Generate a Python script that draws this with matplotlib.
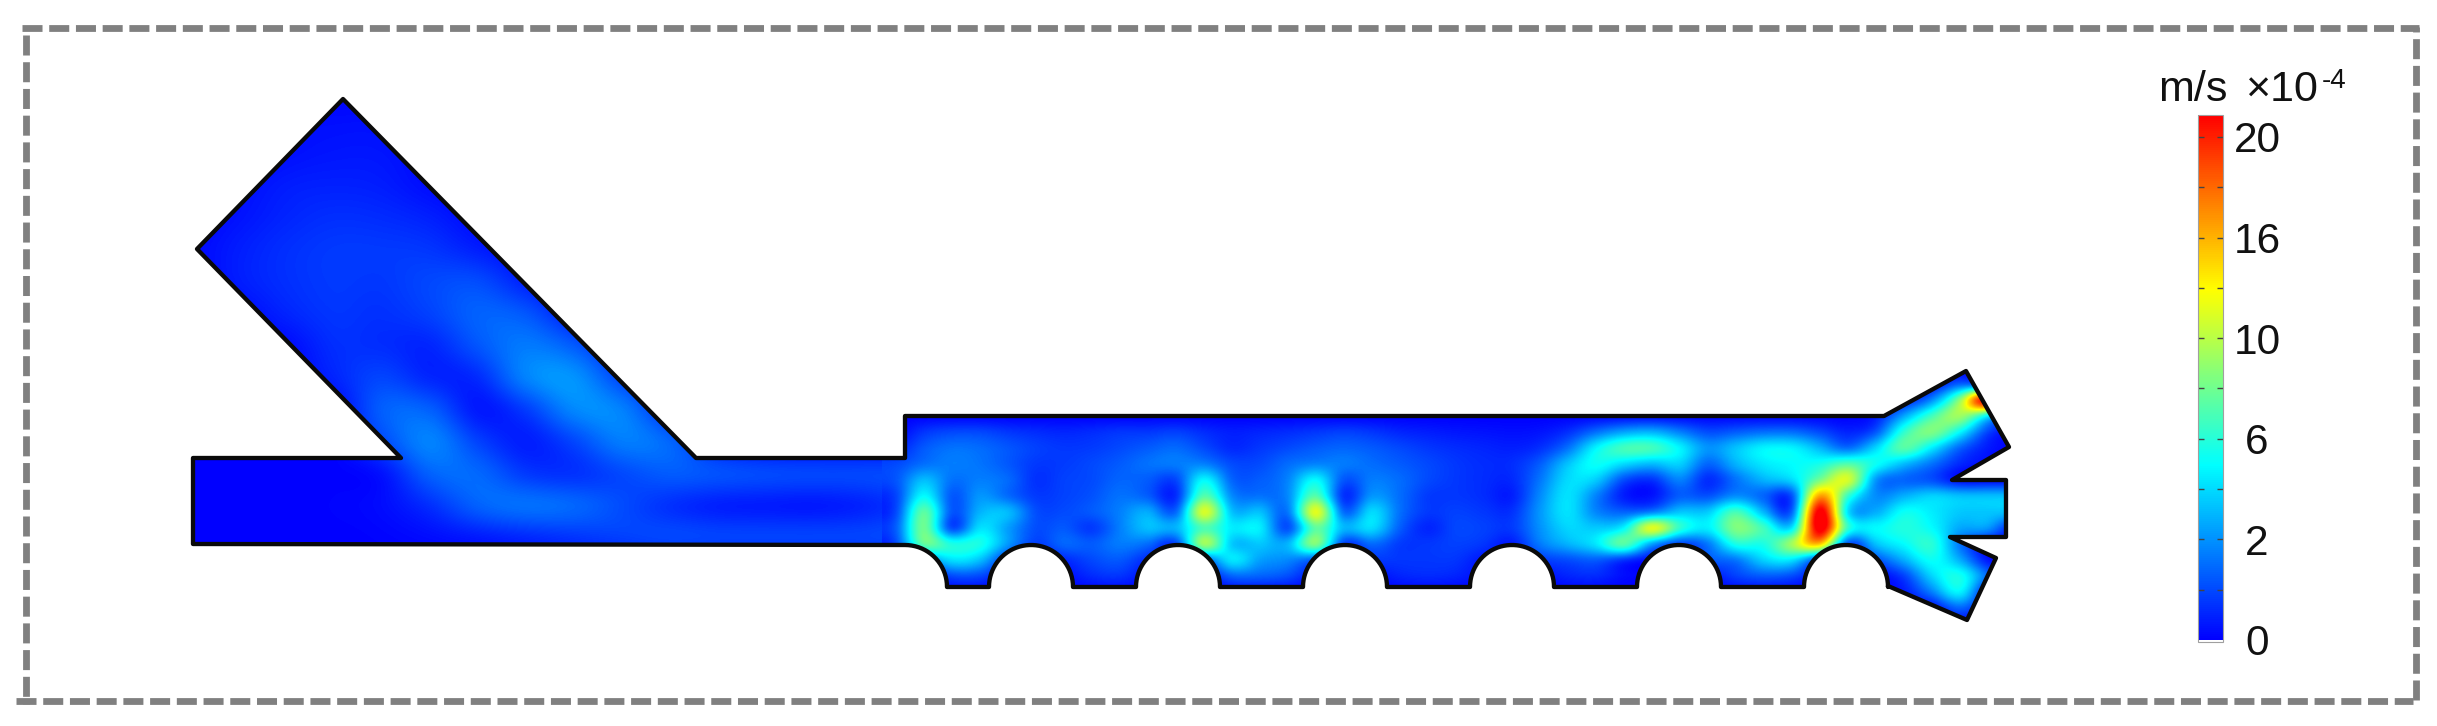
import numpy as np
import matplotlib
matplotlib.use("Agg")
import matplotlib.pyplot as plt
from matplotlib.colors import LinearSegmentedColormap
from matplotlib.patches import Polygon

plt.rcParams['font.family'] = ['Liberation Sans', 'DejaVu Sans']

# speed (colour position on the bar, bar units)
# --- inlet part: columns every 48 px from x=190, rows every 32 px from y=90
left_x = [190,238,286,334,382,430,478,526,574,622,670,718,766,814,862,910]
left_y = [90,122,154,186,218,250,282,314,346,378,410,442,474,506,538,570]
left_speed = [
 [0,0,0,0,0,0,0,0,0,0,0,0,0,0,0,0],
 [0,0,.3,.4,.4,0,0,0,0,0,0,0,0,0,0,0],
 [0,0,.4,.6,.6,.2,0,0,0,0,0,0,0,0,0,0],
 [0,.3,.8,.9,.8,.3,0,0,0,0,0,0,0,0,0,0],
 [0,.5,1,1.3,1.2,.9,.2,0,0,0,0,0,0,0,0,0],
 [.2,.8,1.3,1.6,1.6,1.5,.8,.2,0,0,0,0,0,0,0,0],
 [0,.8,1.3,1.6,1.5,2,2.2,.8,0,0,0,0,0,0,0,0],
 [0,.2,1,1.5,1.3,1.8,2.8,2.5,.6,0,0,0,0,0,0,0],
 [0,0,.2,1.3,1.2,.9,2.4,3.5,2.6,.5,0,0,0,0,0,0],
 [0,0,0,1,2,.9,1,3.8,4.3,1.8,.2,0,0,0,0,0],
 [0,0,0,0,2.8,2.8,.4,1.5,3.9,3.8,1,0,0,0,0,0],
 [0,0,0,0,2,3.9,1.8,.6,1.8,3.6,3,.7,0,0,0,0],
 [0,0,0,0,.3,2.8,3,1.5,1.2,1.9,2.6,2.4,2.2,2.1,2.1,2.2],
 [0,0,0,.1,.3,1.2,2.8,3.3,3,2.1,1.2,.7,.6,.5,.8,1.5],
 [0,0,0,0,.1,.3,.6,1,1.4,1.8,2.1,2,2,2,2,2.2],
 [0,0,0,0,0,0,0,0,0,0,0,0,0,0,0,0],
]

# --- chamber and outlets: columns every 28 px from x=896, rows every 16 px from y=368
chamber_x = [896,924,952,980,1008,1036,1064,1092,1120,1148,1176,1204,1232,1260,1288,1316,1344,1372,1400,1428,
             1456,1484,1512,1540,1568,1596,1624,1652,1680,1708,1736,1764,1792,1820,1848,1876,1904,1932,1960,1988,2016]
chamber_y = [368,384,400,416,432,448,464,480,496,512,528,544,560,576,592,608,624]
chamber_speed = [
 [0,0,0,0,0,0,0,0,0,0, 0,0,0,0,0,0,0,0,0,0, 0,0,0,0,0,0,0,0,0,0, 0,0,0,0,0,0,0,0,0,0,0],
 [0,0,0,0,0,0,0,0,0,0, 0,0,0,0,0,0,0,0,0,0, 0,0,0,0,0,0,0,0,0,0, 0,0,0,0,0,0,0,0,2.5,1,0],
 [0,0,0,0,0,0,0,0,0,0, 0,0,0,0,0,0,0,0,0,0, 0,0,0,0,0,0,0,0,0,0, 0,0,0,0,0,0,.5,3.5,11,24,0],
 [0,0,0,0,0,0,0,0,0,0, 0,0,0,0,0,0,0,0,0,0, 0,0,0,0,0,0,0,0,0,0, 0,0,0,0,0,.5,4.5,9,12,6,0],
 [0,1.5,2,2,1.5,1.2,1,1.2,1.5,1.5, 1.8,1.2,.8,1,1.2,1.5,1.8,1.5,1,.8, .6,.5,.4,.5,1.2,3,4.5,5,3.5,2, 2.5,3,3,2,.8,2,8.5,11,7,1.5,0],
 [.8,2.5,3.2,3,2.4,1.8,1.5,1.6,2,2.5, 3,2,1,1.5,2,2.5,2.8,2.5,2,1.5, 1.2,1,.8,1.2,3,7,9.3,9.3,7,4, 5.5,7,7,5,2.5,6,10,6.5,2.5,.6,0],
 [2,3,3.5,3.2,2.4,1.5,1.6,2,2.5,3.2, 3.5,3.5,2,2,3,3.5,3.5,3,2.5,2, 1.5,1.2,1.2,2.5,5.5,7.5,6,5,6,2.5, 5,6.5,7,7.5,9.5,7.5,5,3,1,.3,0],
 [2.2,5.5,3,3.5,3,1.2,1.8,2,2.8,2.5, 1.5,7.5,2.5,2.5,3.5,7.5,2,3.5,3,2, 1.5,1.2,1,3.2,6.2,5.8,1.8,1,3.8,.8, 3,5,6,10,14,3.5,2.5,2,0,0,0],
 [1.5,7.5,2,4.3,2.8,1.5,1.8,2.2,3.2,2.5, .5,10,3.5,3,3.5,10,.5,4.3,3,1.5, 1.5,1.2,.6,3.8,6.5,3.5,.5,.2,2.5,2, 3.8,2.5,1,18,8,3.5,4.8,6,5.5,5.5,5.5],
 [1.5,10.5,1.8,5,5.5,2,2,2.5,3.5,5, 2,14.5,4.8,5.5,2.5,15,2,6.5,3,1.5, 1.8,1.5,1.2,4.2,6.5,3.5,2.5,3,5.5,5.5, 9.5,4.8,1.2,24,5,4.5,7.5,6.5,5.5,5.5,5.5],
 [2.2,11,.9,6.5,4.3,2,2.5,1.3,3.5,5.5, 5,9,6.5,7,1.2,10,5,6.5,2.5,.8, 2,1.8,1.5,4,6,5.5,6.5,15,8.5,6.5, 11,9,5,24,8,7,8,7,4.5,4.5,0],
 [1.5,10.5,8,8,4.3,1.5,3,2.5,3.5,3, 1,13,5,5.5,4.8,12,1,3,1.5,1.5, 1.8,1.5,.5,3.5,5,6.5,10.5,4,1.3,3, 8,7.5,12,17,1,5.5,7,8.5,3,0,0],
 [0,3,6.5,5.5,1,0,1,2,2.5,1, 0,2,7,4.3,3.8,2,0,1.5,1.5,1.5, 1.5,.5,0,1.5,2,2.5,1,0,.5,2.5, 3,6,6.5,1,0,2,4.8,7.5,4.8,.3,0],
 [0,0,2,2,0,0,.3,1.2,1.5,.3, 0,0,2.8,2.8,2.2,.3,0,.3,1,1.2, 1,.3,0,.3,1,1.2,.3,0,0,.3, 1.8,2.5,2,0,0,0,1.5,6,8,3,0],
 [0,0,0,0,0,0,0,0,0,0, 0,0,0,0,0,0,0,0,0,0, 0,0,0,0,0,0,0,0,0,0, 0,0,0,0,0,0,.5,3.5,7.5,0,0],
 [0,0,0,0,0,0,0,0,0,0, 0,0,0,0,0,0,0,0,0,0, 0,0,0,0,0,0,0,0,0,0, 0,0,0,0,0,0,0,0,3,0,0],
 [0,0,0,0,0,0,0,0,0,0, 0,0,0,0,0,0,0,0,0,0, 0,0,0,0,0,0,0,0,0,0, 0,0,0,0,0,0,0,0,0,0,0],
]

# wall outline (px of the picture)
wall_before = [(193,544),(193,458),(401,458),(197,249),(343,99),(696,458),(905,458),(905,416),
               (1884,416),(1966,371),(2009,447),(1952,480),(2006,480),(2006,537),(1950,537),
               (1996,558),(1967,620),(1888,586)]
groove_centers = [1846,1679,1512,1345,1178,1031]
groove_radius = 42
groove_floor = 587
first_corner = (905,587)

tick_values = [0,4,8,12,16,20]
tick_labels = ['0','2','6','10','16','20']
minor_values = [2,6,10,14,18]

cmap = LinearSegmentedColormap.from_list('rainbow_bar',
    [(0,(0,0,1)),(1/3,(0,1,1)),(.5,(.5,1,.5)),(2/3,(1,1,0)),(1,(1,0,0))])
vmin, vmax = 0, 20.87

W, H = 2437, 726
fig = plt.figure(figsize=(W/100, H/100), dpi=100)
ax = fig.add_axes([0,0,1,1])
ax.axis('off')

# outline with round grooves
pts = list(wall_before)
theta = np.linspace(0, np.pi, 40)
for c in groove_centers:
    pts.append((c+groove_radius, groove_floor))
    for t in theta:
        pts.append((c+groove_radius*np.cos(t), groove_floor-groove_radius*np.sin(t)))
    pts.append((c-groove_radius, groove_floor))
theta = np.linspace(0, np.pi/2, 20)
for t in theta:
    pts.append((first_corner[0]+groove_radius*np.cos(t), first_corner[1]-groove_radius*np.sin(t)))
poly_xy = np.array(pts)

def field(xs, ys, vals):
    dx = xs[1]-xs[0]; dy = ys[1]-ys[0]
    im = ax.imshow(np.array(vals, float), cmap=cmap, vmin=vmin, vmax=vmax, aspect='auto',
                   origin='upper', interpolation='mitchell', interpolation_stage='data',
                   extent=(xs[0]-dx/2, xs[-1]+dx/2, ys[-1]+dy/2, ys[0]-dy/2))
    clip = Polygon(poly_xy, closed=True, transform=ax.transData, fc='none', ec='none')
    ax.add_patch(clip)
    im.set_clip_path(clip)
    return im

field(left_x, left_y, left_speed)
im = field(chamber_x, chamber_y, chamber_speed)
ax.add_patch(Polygon(poly_xy, closed=True, fc='none', ec='#0a0a0a', lw=3.1, joinstyle='round', zorder=5))

ax.set_xlim(0, W)
ax.set_ylim(H, 0)

# dashed frame
frame = dict(color='#808080', lw=4.9, linestyle=(0,(20/6.8,6.7/6.8)), dash_capstyle='butt', solid_capstyle='butt')
ax.plot([22,2419],[27.5,27.5], **frame)
ax.plot([25.5,25.5],[35,704], **frame)
ax.plot([2392-26.7*89,2413],[700.5,700.5], **frame)
ax.plot([2416,2416],[700,27], **frame)
ax.set_xlim(0, W)
ax.set_ylim(H, 0)

# colour bar
cax = fig.add_axes([2198/W, 1-642/H, 25/W, 527/H])
cb = fig.colorbar(im, cax=cax)
cb.outline.set_edgecolor('#a0a0a0')
cb.outline.set_linewidth(.8)
cax.set_ylim(vmin-.08, vmax)
cax.set_yticks(tick_values, labels=tick_labels, ha='center', fontsize=30.5, color='#111111')
cax.set_yticks(minor_values, minor=True)
cax.tick_params(axis='y', which='both', direction='in', left=True, right=True, length=4,
                width=1, color='#444444', pad=24.5)
cax.yaxis.get_major_ticks()[0].tick1line.set_visible(False)
cax.yaxis.get_major_ticks()[0].tick2line.set_visible(False)

ax.text(2158, 101, 'm/s', fontsize=31, color='#111111', ha='left', va='baseline', zorder=6)
ax.text(2245, 101, '×10', fontsize=31, color='#111111', ha='left', va='baseline', zorder=6)
ax.text(2322, 88, '-4', fontsize=20, color='#111111', ha='left', va='baseline', zorder=6)

fig.savefig('out.png', dpi=100, facecolor='white')
